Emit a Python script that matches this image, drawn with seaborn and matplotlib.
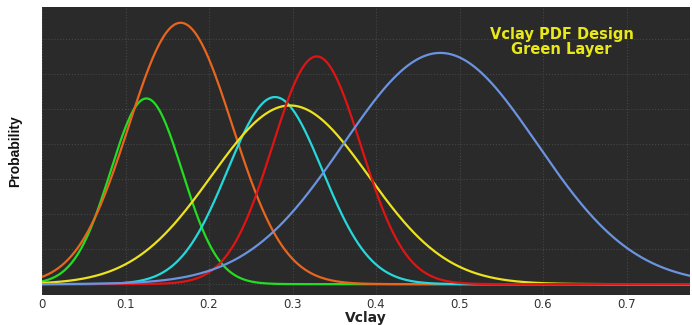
import numpy as np
import pandas as pd
import matplotlib
matplotlib.use("Agg")
import matplotlib.pyplot as plt
import seaborn as sns

# Curve parameters (Vclay mean, spread, peak height in grid units)
series_names = ["Green", "Orange", "Cyan", "Yellow", "Red", "Blue"]
series_means = [0.125, 0.166, 0.279, 0.297, 0.329, 0.477]
series_sigmas = [0.043, 0.062, 0.057, 0.094, 0.053, 0.116]
series_peaks = [5.30, 7.46, 5.34, 5.10, 6.50, 6.60]
series_colors = ["#22dd22", "#e8651e", "#25d8dc", "#ece21e", "#e01414", "#6b93e0"]
x_ticks = [0, 0.1, 0.2, 0.3, 0.4, 0.5, 0.6, 0.7]
x_tick_labels = ["0", "0.1", "0.2", "0.3", "0.4", "0.5", "0.6", "0.7"]

xs = np.linspace(0, 0.78, 400)
rows = []
for n, m, s, p in zip(series_names, series_means, series_sigmas, series_peaks):
    ys = p * np.exp(-0.5 * ((xs - m) / s) ** 2)
    rows.append(pd.DataFrame({"Vclay": xs, "Probability": ys, "curve": n}))
df = pd.concat(rows, ignore_index=True)

sns.set_style("dark")
fig = plt.figure(figsize=(6.92, 3.25), dpi=100)
fig.patch.set_facecolor("white")
ax = fig.add_axes([42 / 692, 1 - 295 / 325, 648 / 692, 288 / 325])
ax.set_facecolor("#2a2a2a")

sns.lineplot(data=df, x="Vclay", y="Probability", hue="curve",
             palette=dict(zip(series_names, series_colors)),
             hue_order=series_names, linewidth=1.6, legend=False, ax=ax)

ax.set_xlim(0, 0.776)
ax.set_ylim(-0.31, 7.91)
ax.set_xticks(x_ticks)
ax.set_xticklabels(x_tick_labels, fontsize=8.5, color="#333333", family="DejaVu Sans")
ax.set_yticks(range(0, 8))
ax.set_yticklabels([])
ax.tick_params(axis="both", length=0, pad=2)
ax.grid(True, color="#464646", linestyle=":", linewidth=0.8)
for sp in ax.spines.values():
    sp.set_visible(False)

ax.set_xlabel("Vclay", fontsize=10, fontweight="bold", color="#222222", labelpad=0)
ax.set_ylabel("Probability", fontsize=10, fontweight="bold", color="#111111",
              family=["Liberation Sans", "DejaVu Sans"], labelpad=12)

ax.text(0.802, 0.878, "Vclay PDF Design\nGreen Layer", transform=ax.transAxes,
        ha="center", va="center", color="#e8e81a", fontsize=10.5, fontweight="bold",
        family=["DejaVu Sans"], linespacing=1.05)

fig.savefig("out.png", dpi=100)
